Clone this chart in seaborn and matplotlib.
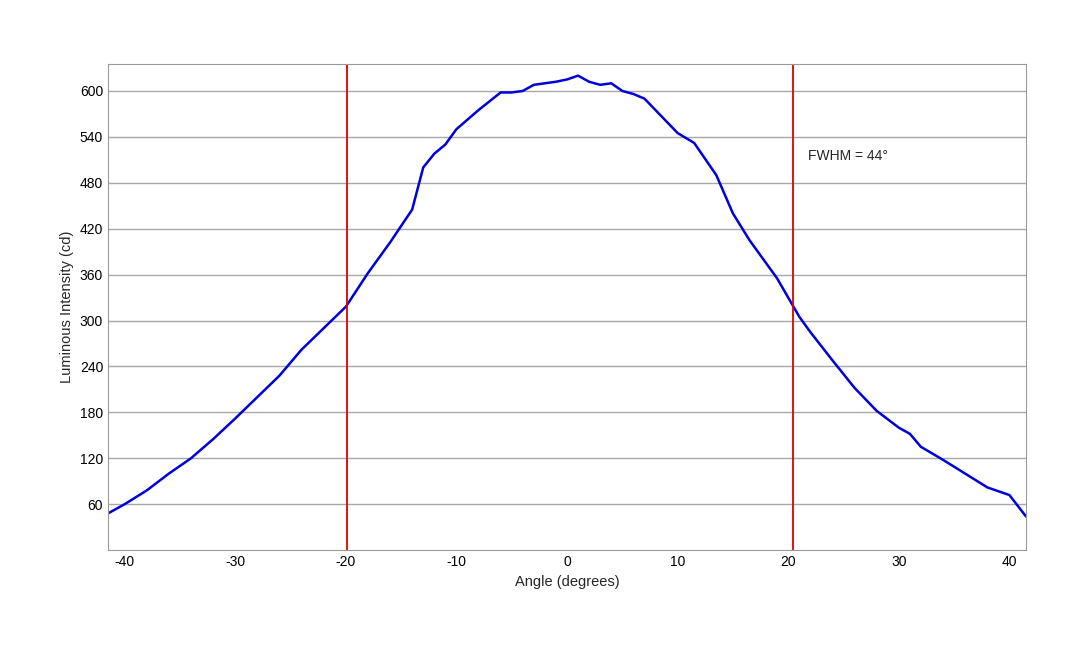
import numpy as np
import pandas as pd
import seaborn as sns
import matplotlib
matplotlib.use("Agg")
import matplotlib.pyplot as plt

angle = [-41.5, -40, -38, -36, -34, -32, -30, -28, -26, -24, -22, -20, -18, -16, -14, -13, -12, -11,
         -10, -8, -6, -5, -4, -3, -2, -1, 0, 1, 2, 3, 4, 5, 6, 7, 8, 10, 11.5, 13.5, 15, 16.5,
         18, 19, 20, 21, 22, 24, 26, 28, 30, 31, 32, 34, 36, 38, 40, 41.5]
intensity = [48, 60, 78, 100, 120, 145, 172, 200, 228, 262, 290, 318, 362, 402, 445, 500, 518, 530,
             550, 575, 598, 598, 600, 608, 610, 612, 615, 620, 612, 608, 610, 600, 596, 590, 575, 545,
             532, 490, 440, 405, 375, 355, 330, 305, 285, 248, 212, 182, 160, 152, 135, 118, 100, 82, 72, 44]
fwhm_lines = [-19.9, 20.4]

df = pd.DataFrame({"angle": angle, "intensity": intensity})

sns.set_style("white")
plt.rcParams['font.family'] = ['Liberation Sans', 'DejaVu Sans']
plt.rcParams['axes.unicode_minus'] = False
fig = plt.figure(figsize=(10.8, 6.48), dpi=100)
ax = fig.add_axes([0.1, 0.151, 0.85, 0.75])
ax.yaxis.grid(True, color="#a8a8a8", linewidth=1)
ax.set_axisbelow(True)
sns.lineplot(data=df, x="angle", y="intensity", color="#0000dd", linewidth=1.8, ax=ax)
for v in fwhm_lines:
    ax.axvline(v, color="#dd0000", linewidth=1.3)
ax.text(21.8, 510, "FWHM = 44°", fontsize=10)
ax.set_xlim(-41.5, 41.5)
ax.set_ylim(0, 635)
ax.set_xticks(range(-40, 41, 10))
ax.set_yticks(range(60, 601, 60))
ax.tick_params(labelsize=10, length=0, colors="black")
ax.set_xlabel("Angle (degrees)", fontsize=10.5)
ax.set_ylabel("Luminous Intensity (cd)", fontsize=10.5)
for s in ax.spines.values():
    s.set_color("#999999")
fig.savefig("out.png")
